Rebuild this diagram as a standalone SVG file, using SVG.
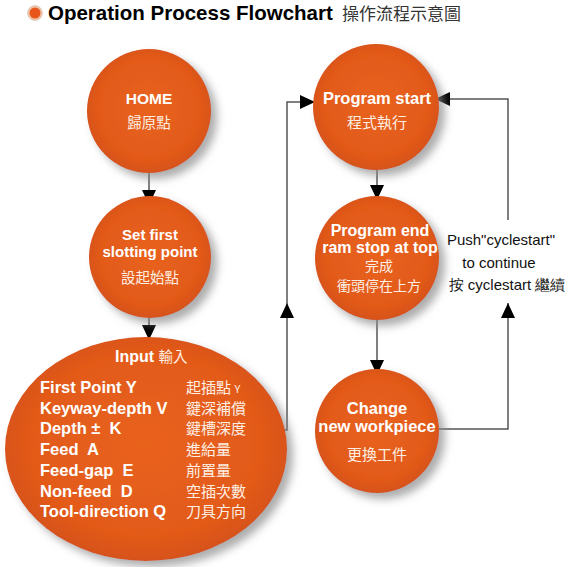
<svg xmlns="http://www.w3.org/2000/svg" width="568" height="567" viewBox="0 0 568 567">
<defs>
<radialGradient id="og" cx="50%" cy="48%" r="52%">
<stop offset="0%" stop-color="#E9621F"/>
<stop offset="80%" stop-color="#E25A19"/>
<stop offset="100%" stop-color="#D6521A"/>
</radialGradient>
<filter id="sh" x="-20%" y="-20%" width="150%" height="150%">
<feGaussianBlur in="SourceAlpha" stdDeviation="4"/>
<feOffset dx="6" dy="6" result="b"/>
<feFlood flood-color="#8a8a8a" flood-opacity="0.7"/>
<feComposite in2="b" operator="in"/>
<feMerge><feMergeNode/><feMergeNode in="SourceGraphic"/></feMerge>
</filter>
<marker id="ah" markerUnits="userSpaceOnUse" markerWidth="16" markerHeight="16" refX="15" refY="7" orient="auto">
<path d="M0,0 L15,7 L0,14 Z" fill="#000"/>
</marker>
<style>
.node{fill:url(#og);filter:url(#sh)}
.en{font-family:"Liberation Sans",Arial,sans-serif;font-weight:bold;fill:#fff;text-anchor:middle}
.zh{font-family:"Noto Sans CJK TC","Noto Sans CJK SC",sans-serif;fill:#FDEFE4;text-anchor:middle}
.conn{fill:none;stroke:#555;stroke-width:1.5}
.lst{font-family:"Liberation Sans",Arial,sans-serif;font-weight:bold;fill:#fff;font-size:16.5px;white-space:pre}
.lzh{font-family:"Noto Sans CJK TC","Noto Sans CJK SC",sans-serif;fill:#FDEFE4;font-size:15px}
.note{font-family:"Liberation Sans",Arial,sans-serif;font-size:15px;text-anchor:middle;fill:#111}
</style>
</defs>
<rect width="568" height="567" fill="#fff"/>
<g id="title">
<circle cx="35" cy="13" r="7.5" fill="#F4C4A6" stroke="#bbb" stroke-width="0.5"/>
<circle cx="35" cy="13" r="5.5" fill="#E8561C"/>
<text x="48" y="20" font-family="'Liberation Sans',Arial,sans-serif" font-weight="bold" font-size="20.5" fill="#000">Operation Process Flowchart</text>
<text x="342" y="20" font-family="'Noto Sans CJK TC','Noto Sans CJK SC',sans-serif" font-size="17" fill="#333">操作流程示意圖</text>
</g>
<g id="connectors">
<path class="conn" d="M149,173 V205" marker-end="url(#ah)"/>
<path class="conn" d="M149,318 V340" marker-end="url(#ah)"/>
<path class="conn" d="M282,430 H287 V303" marker-end="url(#ah)"/>
<path class="conn" d="M287,303 V102 H315" marker-end="url(#ah)"/>
<path class="conn" d="M377,168 V200" marker-end="url(#ah)"/>
<path class="conn" d="M377,318 V375" marker-end="url(#ah)"/>
<path class="conn" d="M438,429 H508 V303" marker-end="url(#ah)"/>
<path class="conn" d="M508,220 V99 H435" marker-end="url(#ah)"/>
</g>
<g id="home">
<circle class="node" cx="149" cy="111" r="62"/>
<text class="en" x="149" y="104" font-size="15.5">HOME</text>
<text class="zh" x="149" y="128" font-size="14.5">歸原點</text>
</g>
<g id="setfirst">
<circle class="node" cx="150" cy="257" r="61"/>
<text class="en" x="150" y="240" font-size="15">Set first</text>
<text class="en" x="150" y="257" font-size="15">slotting point</text>
<text class="zh" x="150" y="283" font-size="14.5">設起始點</text>
</g>
<g id="input">
<ellipse class="node" cx="146" cy="449" rx="141" ry="112"/>
<text x="115" y="362" font-family="'Liberation Sans',Arial,sans-serif" font-weight="bold" font-size="16" fill="#fff">Input <tspan font-family="'Noto Sans CJK TC','Noto Sans CJK SC',sans-serif" font-weight="normal" font-size="14.5" fill="#FDEFE4">輸入</tspan></text>
<text class="lst" x="40" y="393">First Point Y</text>
<text class="lst" x="40" y="414">Keyway-depth V</text>
<text class="lst" x="40" y="434">Depth ±  K</text>
<text class="lst" x="40" y="455">Feed  A</text>
<text class="lst" x="40" y="476">Feed-gap  E</text>
<text class="lst" x="40" y="497">Non-feed  D</text>
<text class="lst" x="40" y="517">Tool-direction Q</text>
<text class="lzh" x="186" y="393">起插點 <tspan font-size="11">Y</tspan></text>
<text class="lzh" x="186" y="414">鍵深補償</text>
<text class="lzh" x="186" y="434">鍵槽深度</text>
<text class="lzh" x="186" y="455">進給量</text>
<text class="lzh" x="186" y="476">前置量</text>
<text class="lzh" x="186" y="497">空插次數</text>
<text class="lzh" x="186" y="517">刀具方向</text>
</g>
<g id="progstart">
<circle class="node" cx="376" cy="107" r="63"/>
<text class="en" x="377" y="104" font-size="16.5">Program start</text>
<text class="zh" x="377" y="128" font-size="15">程式執行</text>
</g>
<g id="progend">
<circle class="node" cx="377" cy="258" r="62"/>
<text class="en" x="380" y="236" font-size="16">Program end</text>
<text class="en" x="380" y="253" font-size="16">ram stop at top</text>
<text class="zh" x="379" y="271" font-size="14">完成</text>
<text class="zh" x="379" y="291" font-size="14">衝頭停在上方</text>
</g>
<g id="change">
<circle class="node" cx="377" cy="431" r="62"/>
<text class="en" x="377" y="414" font-size="16.5">Change</text>
<text class="en" x="377" y="432" font-size="16.5">new workpiece</text>
<text class="zh" x="377" y="460" font-size="15">更換工件</text>
</g>
<g id="note">
<text class="note" x="501" y="245">Push"cyclestart"</text>
<text class="note" x="499" y="268">to continue</text>
<text class="note" x="507" y="290" fill="#555" font-size="14.5" font-family="'Liberation Sans','Noto Sans CJK TC',sans-serif">按 cyclestart 繼續</text>
</g>
</svg>
